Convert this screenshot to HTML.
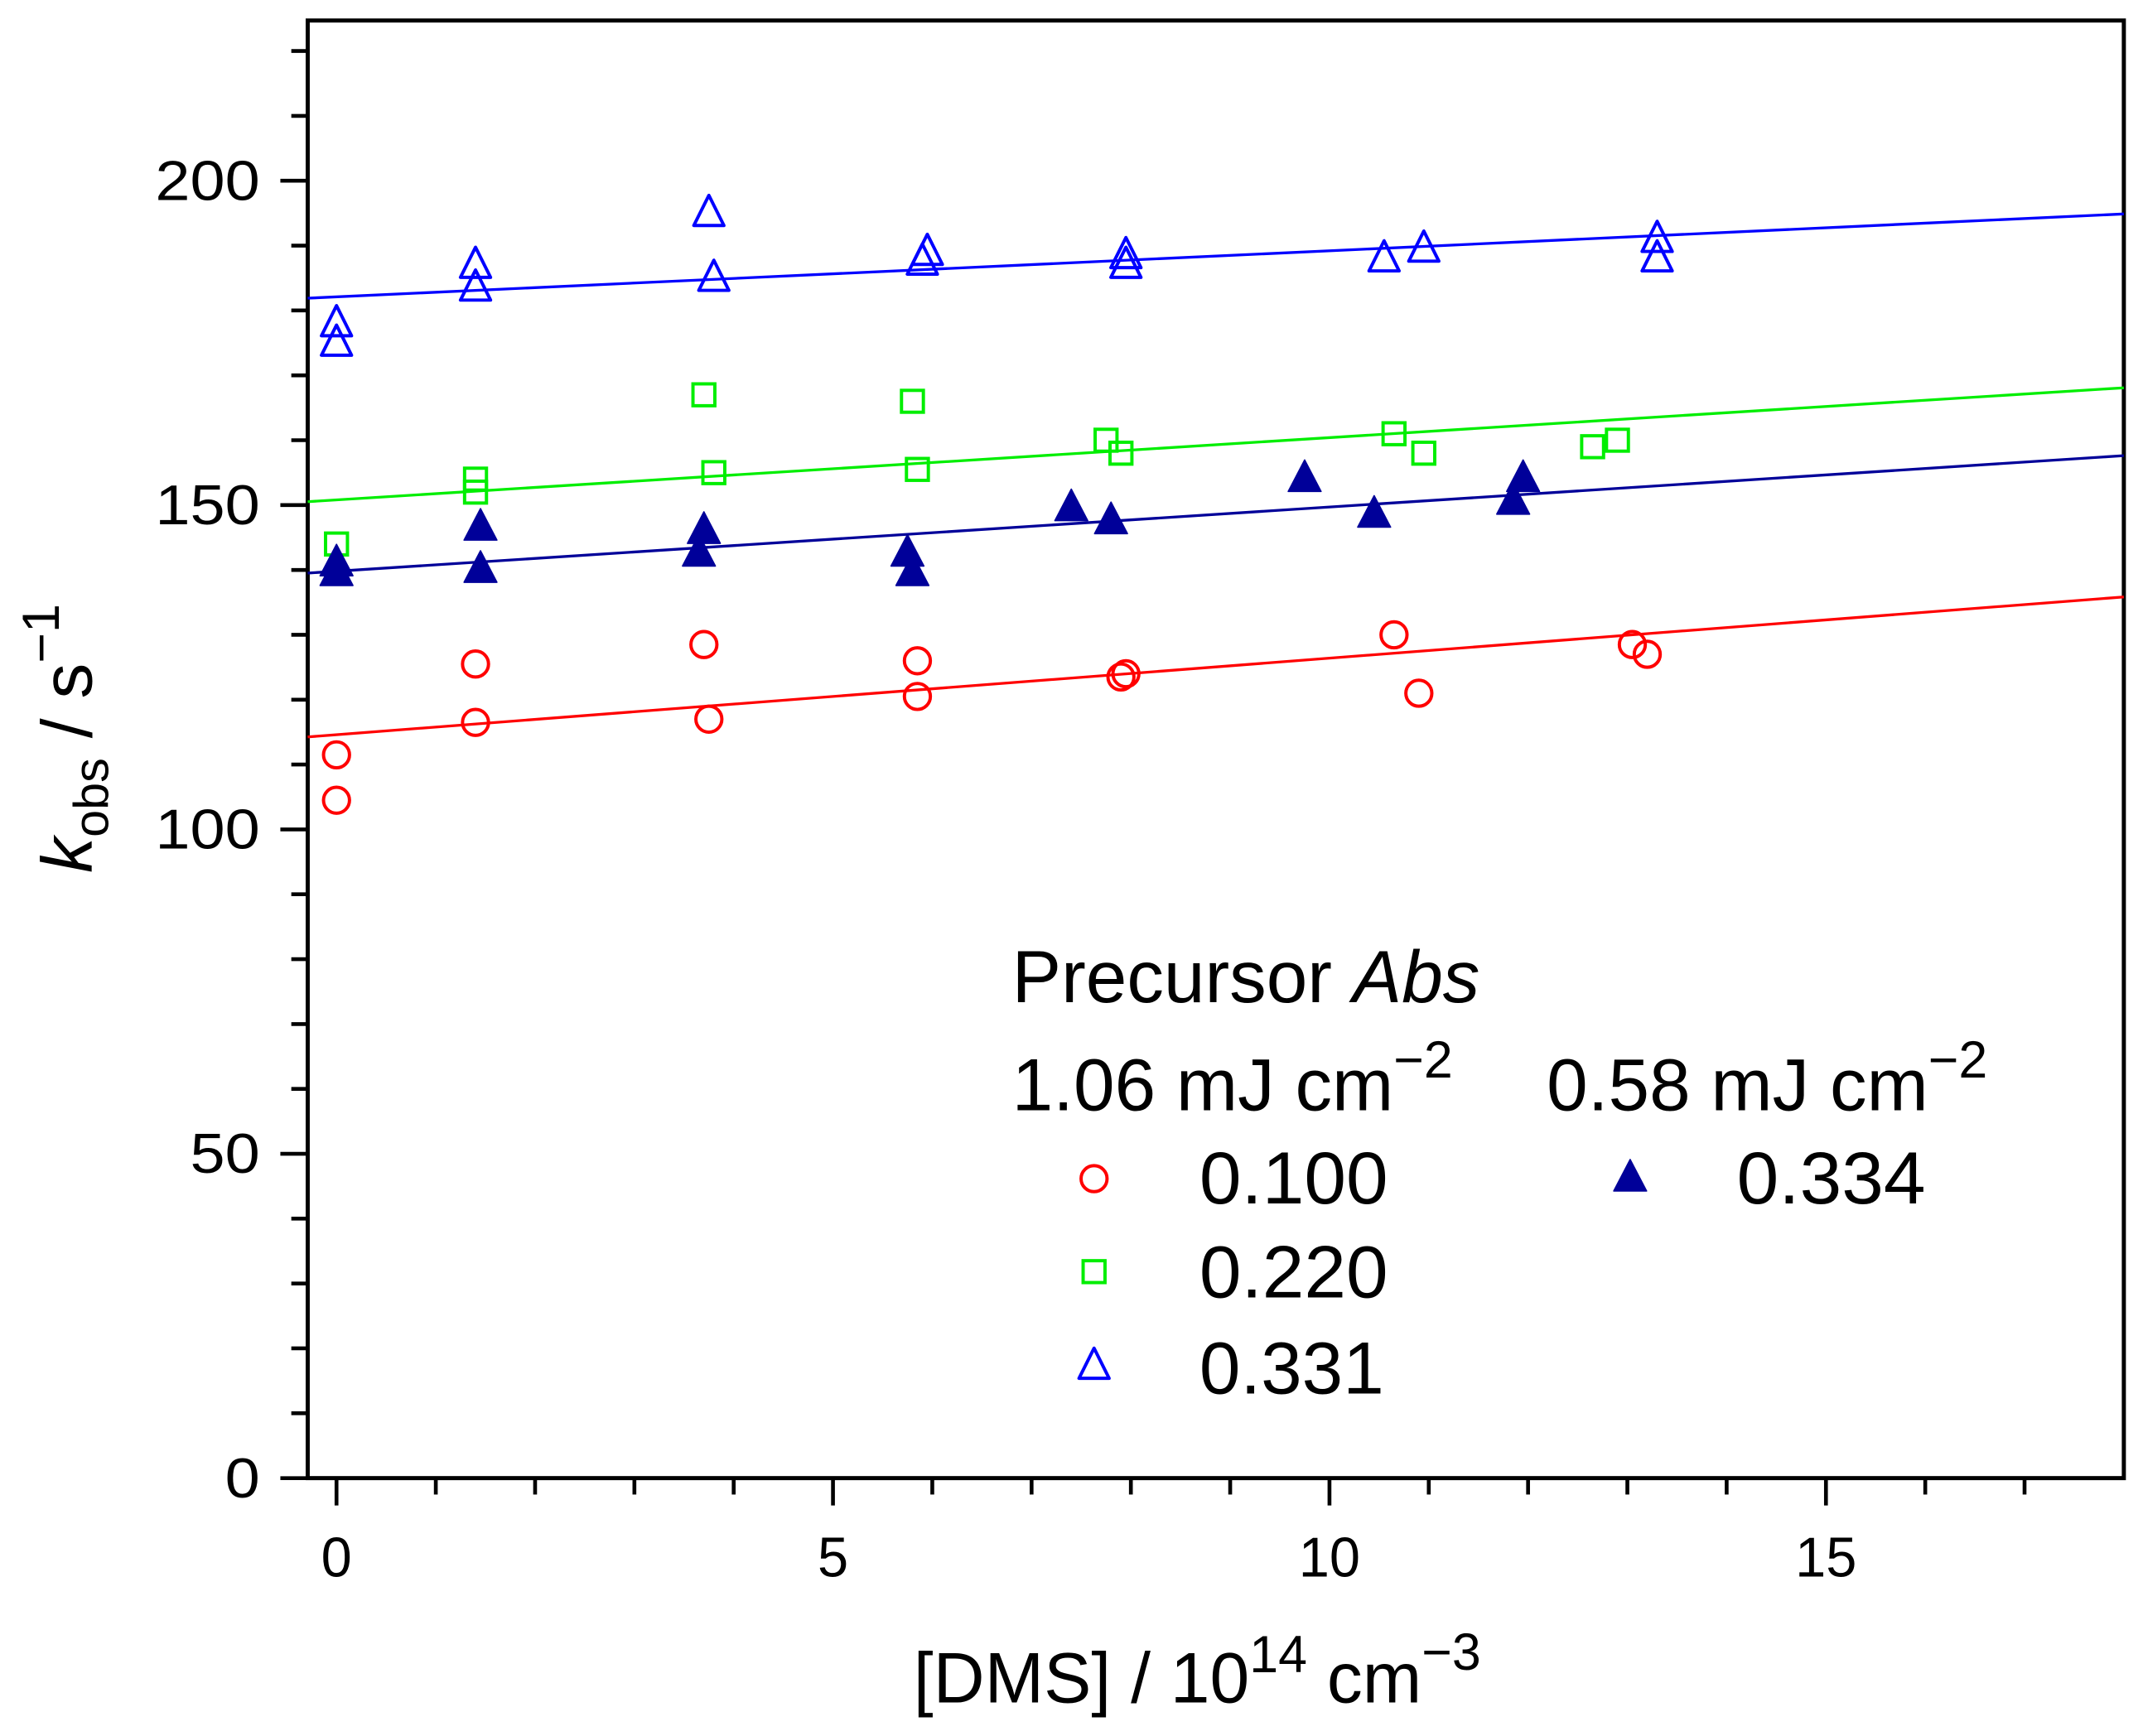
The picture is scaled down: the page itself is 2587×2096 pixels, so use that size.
<!DOCTYPE html>
<html><head><meta charset="utf-8"><style>
html,body{margin:0;padding:0;background:#fff}
svg{display:block}
text{font-family:"Liberation Sans",Arial,sans-serif}
</style></head><body>
<svg id="chart" width="2587" height="2096" viewBox="0 0 1567 1269.6" xmlns="http://www.w3.org/2000/svg">
<g id="axes"></g>
<g id="marks"></g>
<g id="legend"></g>
</svg>
<script>
const xTicks = [0, 5, 10, 15];
const yTicks = [0, 50, 100, 150, 200];
const redX = [0, 0, 1.4, 1.4, 3.7, 3.75, 5.85, 5.85, 7.9, 7.95, 10.65, 10.9, 13.05, 13.2];
const redY = [111.5, 104.5, 125.5, 116.5, 128.5, 117, 126, 120.5, 123.5, 124, 130, 121, 128.5, 127];
const redFit = [114.6, 1.18];
const greenX = [0, 1.4, 1.4, 3.7, 3.8, 5.8, 5.85, 7.75, 7.9, 10.65, 10.95, 12.65, 12.9];
const greenY = [144, 154, 152, 167, 155, 166, 155.5, 160, 158, 161, 158, 159, 160];
const greenFit = [150.8, 0.96];
const blueX = [0, 0, 1.4, 1.4, 3.75, 3.8, 5.95, 5.9, 7.95, 7.95, 10.55, 10.95, 13.3, 13.3];
const blueY = [178, 175, 187, 183.5, 195, 185, 189, 187.5, 188.5, 187, 188, 189.5, 191, 188];
const blueFit = [182.1, 0.71];
const navyX = [0, 0, 1.45, 1.45, 3.7, 3.65, 5.75, 5.8, 7.4, 7.8, 9.75, 10.45, 11.85, 11.95];
const navyY = [141, 139.5, 146.5, 140, 146, 142.5, 142.5, 139.5, 149.5, 147.5, 154, 148.5, 150.5, 154];
const navyFit = [139.8, 0.99];

const NS = "http://www.w3.org/2000/svg";
const L = 225, R = 1553, T = 15, B = 1081;
const xMin = -0.29, xMax = 18, yMin = 0, yMax = 224.7;
function sx(v){ return L + (v - xMin) / (xMax - xMin) * (R - L); }
function sy(v){ return B - (v - yMin) / (yMax - yMin) * (B - T); }
function mk(tag, attrs, parent){
  const e = document.createElementNS(NS, tag);
  for (const k in attrs) e.setAttribute(k, attrs[k]);
  parent.appendChild(e);
  return e;
}
const axes = document.getElementById('axes');
const marks = document.getElementById('marks');
const legend = document.getElementById('legend');

const frame = mk('rect', {x:L, y:T, width:R-L, height:B-T, fill:'none', stroke:'#000', 'stroke-width':3}, axes);



for (let v = 0; v <= 17; v++) {
  const major = v % 5 === 0;
  const t = mk('line', {x1:sx(v), x2:sx(v), y1:B, y2:B + (major ? 20 : 12), stroke:'#000', 'stroke-width':2.8}, axes);
  
  
}
xTicks.forEach(v => {
  const t = mk('text', {x:sx(v), y:1153, 'font-size':41, 'text-anchor':'middle', 'textLength': String(v).length*22.5, 'lengthAdjust':'spacingAndGlyphs'}, axes);
  t.textContent = v;
  
  
});
for (let v = 0; v <= 220; v += 10) {
  const major = v % 50 === 0;
  const t = mk('line', {x1:L, x2:L - (major ? 20 : 12), y1:sy(v), y2:sy(v), stroke:'#000', 'stroke-width':2.8}, axes);
  
  
}
yTicks.forEach(v => {
  const t = mk('text', {x:190, y:sy(v) + 14, 'font-size':41, 'text-anchor':'end', 'textLength': String(v).length*25.5, 'lengthAdjust':'spacingAndGlyphs'}, axes);
  t.textContent = v;
  
  
});
const xt = mk('text', {x:668, y:1245, 'font-size':52}, axes);
xt.innerHTML = '[DMS] / 10<tspan dy="-22" font-size="38">14</tspan><tspan dy="22"> cm</tspan><tspan dy="-24" font-size="38">−3</tspan>';


const yt = mk('text', {transform:'translate(67,540) rotate(-90)', 'font-size':52, 'text-anchor':'middle'}, axes);
yt.innerHTML = '<tspan font-style="italic">k</tspan><tspan dy="12" font-size="36">obs</tspan><tspan dy="-12"> / s</tspan><tspan dy="-24" font-size="38">−1</tspan>';



function marker(kind, cx, cy, color, parent, name){
  let e;
  if (kind === 'circle') e = mk('circle', {cx:cx, cy:cy, r:9.5, fill:'none', stroke:color, 'stroke-width':2.4}, parent);
  else if (kind === 'square') e = mk('rect', {x:cx-8, y:cy-8, width:16, height:16, fill:'none', stroke:color, 'stroke-width':2.4}, parent);
  else if (kind === 'tri') e = mk('polygon', {points:`${cx},${cy-13} ${cx-11},${cy+9} ${cx+11},${cy+9}`, fill:'none', stroke:color, 'stroke-width':2.4, 'stroke-linejoin':'round'}, parent);
  else e = mk('polygon', {points:`${cx},${cy-14} ${cx-12},${cy+9} ${cx+12},${cy+9}`, fill:color, stroke:color, 'stroke-width':1, 'stroke-linejoin':'round'}, parent);
  
  
}
function series(xs, ys, fit, color, kind, name){
  const fl = mk('line', {x1:sx(xMin), y1:sy(fit[0] + fit[1]*xMin), x2:sx(xMax), y2:sy(fit[0] + fit[1]*xMax), stroke:color, 'stroke-width':2}, marks);
  
  
  xs.forEach((x, i) => marker(kind, sx(x), sy(ys[i]), color, marks, name + '-point'));
}
series(redX, redY, redFit, '#ff0000', 'circle', 'abs-0100');
series(greenX, greenY, greenFit, '#00ee00', 'square', 'abs-0220');
series(navyX, navyY, navyFit, '#000099', 'filled', 'abs-0334');
series(blueX, blueY, blueFit, '#0000ff', 'tri', 'abs-0331');

function ltext(x, y, html, name, len){
  const t = mk('text', {x:x, y:y, 'font-size':54}, legend);
  if (len) { t.setAttribute('textLength', len); t.setAttribute('lengthAdjust', 'spacingAndGlyphs'); }
  t.innerHTML = html;
  
  
}
ltext(740, 733, 'Precursor <tspan font-style="italic">Abs</tspan>', 'legend-title');
ltext(740, 812, '1.06 mJ cm<tspan dy="-24" font-size="38">−2</tspan>', 'legend-group-1-06');
ltext(1131, 812, '0.58 mJ cm<tspan dy="-24" font-size="38">−2</tspan>', 'legend-group-0-58');
marker('circle', 800, 862, '#ff0000', legend, 'legend-marker-0100');
ltext(877, 880, '0.100', 'legend-label-0100', 138);
marker('square', 800, 930, '#00ee00', legend, 'legend-marker-0220');
ltext(877, 949, '0.220', 'legend-label-0220', 138);
marker('tri', 800, 999, '#0000ff', legend, 'legend-marker-0331');
ltext(877, 1019, '0.331', 'legend-label-0331', 135);
marker('filled', 1192, 862, '#000099', legend, 'legend-marker-0334');
ltext(1270, 880, '0.334', 'legend-label-0334', 138);
</script>
</body></html>
